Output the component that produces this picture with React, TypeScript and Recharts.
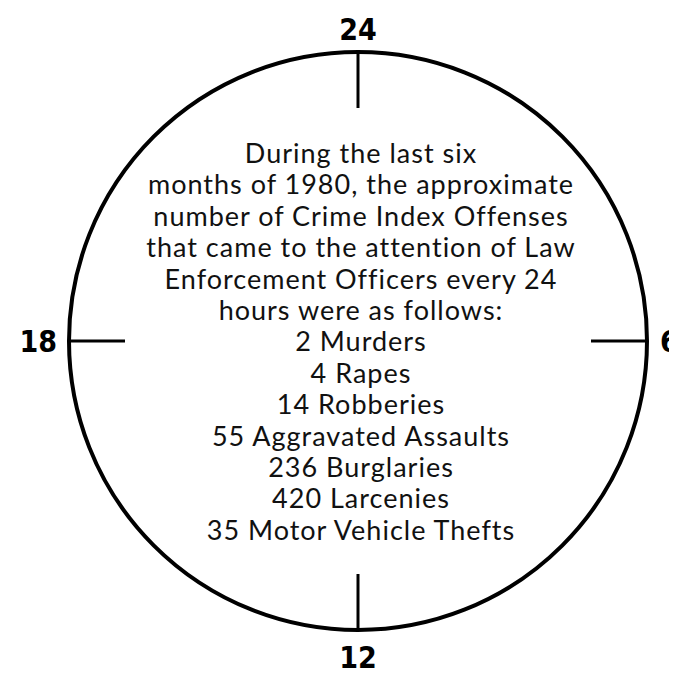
import React from "react";
import { RadarChart, PolarAngleAxis, Radar, Customized } from "recharts";

const hourLabels = ["24", "6", "12", "18"];
const hourValues = [0, 0, 0, 0];

const introLines = [
  "During the last six",
  "months of 1980, the approximate",
  "number of Crime Index Offenses",
  "that came to the attention of Law",
  "Enforcement Officers every 24",
  "hours were as follows:",
];
const offenseCounts = [2, 4, 14, 55, 236, 420, 35];
const offenseNames = [
  "Murders",
  "Rapes",
  "Robberies",
  "Aggravated Assaults",
  "Burglaries",
  "Larcenies",
  "Motor Vehicle Thefts",
];

const data = hourLabels.map((h, i) => ({ hour: h, v: hourValues[i] }));
const bodyLines = [
  ...introLines,
  ...offenseCounts.map((c, i) => `${c} ${offenseNames[i]}`),
];

const RAD = Math.PI / 180;
const TICK_LEN = 56;

const ClockTick = (props: any) => {
  const { x, y, payload } = props;
  const a = payload.coordinate * RAD;
  const ux = Math.cos(a);
  const uy = -Math.sin(a);
  const px = x - ux * 1;
  const py = y - uy * 1;
  const ex = px - ux * TICK_LEN;
  const ey = py - uy * TICK_LEN;
  let lx = px;
  let ly = py;
  let anchor: "start" | "middle" | "end" = "middle";
  if (Math.abs(uy) > 0.5) {
    if (uy < 0) {
      ly = py - 12;
    } else {
      ly = py + 38;
    }
  } else if (ux > 0) {
    lx = px + 13;
    ly = py + 11;
    anchor = "start";
  } else {
    lx = px - 12;
    ly = py + 11;
    anchor = "end";
  }
  return (
    <g>
      <line x1={px} y1={py} x2={ex} y2={ey} stroke="#000" strokeWidth={3} />
      <text
        x={lx}
        y={ly}
        textAnchor={anchor}
        fontFamily="'DejaVu Sans Condensed', 'DejaVu Sans'"
        fontWeight="bold"
        fontSize={30}
        fill="#000"
      >
        {payload.value}
      </text>
    </g>
  );
};

const CenterText = () => (
  <g>
    {bodyLines.map((t, i) => (
      <text
        key={i}
        x={353}
        y={155 + i * 31.4}
        textAnchor="middle"
        fontFamily="Lato, 'Open Sans', sans-serif"
        fontSize={27}
        letterSpacing={1}
        fill="#111"
      >
        {t}
      </text>
    ))}
  </g>
);

export default function App() {
  return (
    <div style={{ width: 669, height: 665, background: "#fff" }}>
      <RadarChart
        width={669}
        height={665}
        data={data}
        cx={350}
        cy={333}
        outerRadius={289}
        margin={{ top: 0, right: 0, bottom: 0, left: 0 }}
      >
        <PolarAngleAxis
          dataKey="hour"
          axisLineType="circle"
          axisLine={{ stroke: "#000", strokeWidth: 4 }}
          tickLine={false}
          tickSize={1}
          tick={<ClockTick />}
        />
        <Radar
          dataKey="v"
          stroke="none"
          fill="none"
          isAnimationActive={false}
        />
        <Customized component={CenterText} />
      </RadarChart>
    </div>
  );
}
